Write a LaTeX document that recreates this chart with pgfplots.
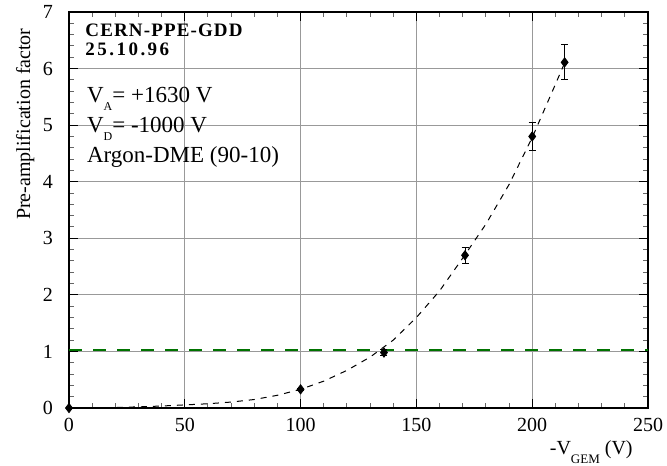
\documentclass[border=0pt]{standalone}
\usepackage{fontspec}
\setmainfont{Liberation Serif}
\newfontfamily\cernfont[LetterSpace=6]{Liberation Serif}
\newfontfamily\datefont[LetterSpace=13]{Liberation Serif}
\usepackage{graphicx}
\usepackage{pgfplots}
\pgfplotsset{compat=1.18}
\definecolor{gridgray}{gray}{0.6}
\definecolor{fitgreen}{rgb}{0,0.45,0}
\begin{document}
\begin{tikzpicture}
\useasboundingbox (-34.5pt,-28.5pt) rectangle (299pt,204pt);
\begin{axis}[
  at={(0,0)}, anchor=south west,
  scale only axis, width=289.5pt, height=198pt,
  xmin=0, xmax=250, ymin=0, ymax=7,
  xtick={0,50,...,250}, ytick={0,1,...,7},
  minor x tick num=4, minor y tick num=4,
  xtick pos=both, ytick pos=both,
  xticklabel pos=left, yticklabel pos=left,
  tick align=inside, major tick length=4.5pt, minor tick length=2.5pt,
  grid=major, major grid style={gridgray, line width=0.5pt},
  major tick style={black, line width=0.5pt},
  minor tick style={black!60, line width=0.5pt},
  axis line style={line width=0.6pt},
  /pgf/number format/assume math mode=true,
  ticklabel style={font=\fontsize{10}{12}\selectfont},
  yticklabel style={xshift=-4.5pt},
  xticklabel style={yshift=-1.7pt},
  clip=false,
]
\addplot[black, line width=0.5pt, dash pattern=on 3pt off 3pt] coordinates {
 (0,0) (10,0.003) (20,0.01) (30,0.02) (40,0.035) (50,0.055) (60,0.075) (70,0.105)
 (80,0.15) (90,0.225) (100,0.33) (110,0.475) (120,0.665) (130,0.9) (140,1.2)
 (150,1.6) (160,2.07) (170,2.65) (180,3.25) (190,3.95) (200,4.78) (210,5.72) (214,6.1)
};
\addplot[fitgreen, line width=0.9pt, dash pattern=on 6.5pt off 5.5pt] coordinates {(0,1.02) (250,1.02)};
\addplot[black, only marks, mark=diamond*, mark size=2.3pt,
  error bars/.cd, y dir=both, y explicit,
  error bar style={line width=0.4pt},
  error mark options={line width=0.4pt, mark size=1.75pt, rotate=90}]
  coordinates {
  (0,0) +- (0,0)
  (100,0.33) +- (0,0.02)
  (136,0.98) +- (0,0.05)
  (171,2.70) +- (0,0.14)
  (200,4.80) +- (0,0.24)
  (214,6.11) +- (0,0.31)
};
\end{axis}
\node[anchor=base west, inner sep=0pt, font=\cernfont\bfseries\fontsize{9.5}{10}\selectfont] at (8pt,185.6pt) {CERN-PPE-GDD};
\node[anchor=base west, inner sep=0pt, font=\datefont\bfseries\fontsize{9.5}{10}\selectfont] at (8pt,176pt) {25.10.96};
\node[anchor=base west, inner sep=0pt, font=\fontsize{11.5}{13}\selectfont] at (8.85pt,152.5pt) {V\raisebox{-4pt}{\fontsize{6}{6}\selectfont A}= +1630 V};
\node[anchor=base west, inner sep=0pt, font=\fontsize{11.5}{13}\selectfont] at (8.85pt,137.5pt) {V\raisebox{-4pt}{\fontsize{6}{6}\selectfont D}= -1000 V};
\node[anchor=base west, inner sep=0pt, font=\fontsize{11.5}{13}\selectfont] at (8.85pt,122.5pt) {Argon-DME (90-10)};
\node[anchor=base east, inner sep=0pt, font=\fontsize{10}{12}\selectfont] at (282pt,-23pt) {-V\raisebox{-4.5pt}{\fontsize{6.5}{6.5}\selectfont GEM}\ (V)};
\node[rotate=90, anchor=base east, inner sep=0pt, font=\fontsize{10}{12}\selectfont] at (-19.5pt,190pt) {Pre-amplification factor};
\end{tikzpicture}
\end{document}
